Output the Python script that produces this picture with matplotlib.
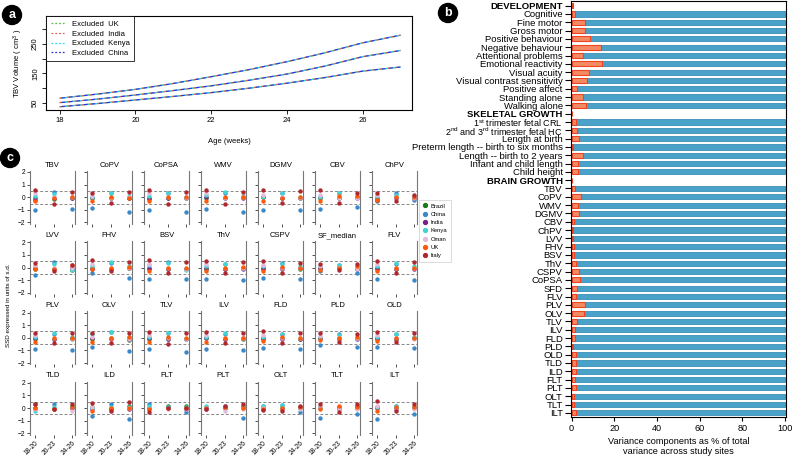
import numpy as np
import matplotlib
matplotlib.use('Agg')
import matplotlib.pyplot as plt
from matplotlib.lines import Line2D

plt.rcParams['font.family'] = ['Liberation Sans', 'DejaVu Sans']
plt.rcParams['mathtext.fontset'] = 'custom'
plt.rcParams['mathtext.rm'] = 'Liberation Sans'
plt.rcParams['mathtext.it'] = 'Liberation Sans:italic'

# ---- panel a data: TBV centiles (3rd / 50th / 97th) by gestational week
weeks = [18, 19, 20, 21, 22, 23, 24, 25, 26, 27]
tbv_lo = [37, 48, 60, 72, 85, 100, 117, 136, 158, 172]
tbv_mid = [51, 63, 77, 92, 108, 127, 148, 175, 207, 228]
tbv_hi = [66, 80, 96, 116, 139, 163, 190, 220, 254, 280]
excluded = ['UK', 'India', 'Kenya', 'China']
excl_colors = ['#5fbf4f', '#e0605a', '#20e0e8', '#3333dd']

# ---- panel b data: site variance (%) per outcome
outcomes = ['DEVELOPMENT', 'Cognitive', 'Fine motor', 'Gross motor', 'Positive behaviour',
            'Negative behaviour', 'Attentional problems', 'Emotional reactivity', 'Visual acuity',
            'Visual contrast sensitivity', 'Positive affect', 'Standing alone', 'Walking alone',
            'SKELETAL GROWTH', '1$^{\\rm st}$ trimester fetal CRL',
            '2$^{\\rm nd}$ and 3$^{\\rm rd}$ trimester fetal HC', 'Length at birth',
            'Preterm length -- birth to six months', 'Length -- birth to 2 years',
            'Infant and child length', 'Child height',
            'BRAIN GROWTH', 'TBV', 'CoPV', 'WMV', 'DGMV', 'CBV', 'ChPV', 'LVV', 'FHV', 'BSV', 'ThV',
            'CSPV', 'CoPSA', 'SFD', 'FLV', 'PLV', 'OLV', 'TLV', 'ILV', 'FLD', 'PLD', 'OLD', 'TLD',
            'ILD', 'FLT', 'PLT', 'OLT', 'TLT', 'ILT']
headers = ['DEVELOPMENT', 'SKELETAL GROWTH', 'BRAIN GROWTH']
site_var = [0.5, 1.4, 6.1, 6.4, 8.6, 13.9, 5.3, 14.2, 8.0, 7.4, 2.5, 5.5, 6.9,
            0.3, 1.9, 2.7, 3.6, 0.5, 5.5, 3.1, 3.1,
            0.3, 1.7, 4.5, 3.1, 3.3, 0.9, 0.8, 0.8, 1.1, 0.9, 1.9, 3.3, 3.9, 2.3, 2.2,
            6.1, 5.6, 2.7, 1.4, 1.4, 0.8, 1.9, 2.2, 2.2, 1.4, 2.2, 0.9, 0.9, 1.9]

# ---- panel c data: SSD (s.d. units) per measure, sites x 3 age windows
measures = ['TBV', 'CoPV', 'CoPSA', 'WMV', 'DGMV', 'CBV', 'ChPV',
            'LVV', 'FHV', 'BSV', 'ThV', 'CSPV', 'SF_median', 'FLV',
            'PLV', 'OLV', 'TLV', 'ILV', 'FLD', 'PLD', 'OLD',
            'TLD', 'ILD', 'FLT', 'PLT', 'OLT', 'TLT', 'ILT']
age_groups = ['18-20', '20-23', '24-26']
sites = ['Brazil', 'China', 'India', 'Kenya', 'Oman', 'UK', 'Italy']
site_colors = ['#1b7a1b', '#3a88c8', '#7b1f8a', '#40d4d4', '#e2bcd8', '#ff5a0a', '#b0282e']

ssd_brazil = [(-0.2, -0.15, -0.1), (-0.1, -0.1, -0.1), (-0.15, -0.1, -0.05), (-0.05, -0.1, 0.0),
              (0.0, -0.1, -0.1), (-0.1, -0.05, 0.0), (-0.1, 0.0, -0.1),
              (-0.1, -0.15, -0.2), (-0.05, -0.1, 0.0), (-0.1, -0.1, -0.15), (-0.1, -0.1, -0.05),
              (-0.1, 0.0, -0.1), (-0.05, -0.05, -0.1), (-0.1, -0.1, -0.05),
              (-0.1, -0.1, -0.1), (-0.1, -0.05, -0.15), (-0.1, -0.1, -0.1), (-0.05, -0.1, -0.1),
              (-0.1, -0.05, -0.1), (0.0, -0.1, 0.0), (-0.1, -0.1, -0.05),
              (0.3, -0.05, 0.2), (0.1, -0.1, 0.15), (0.0, 0.2, 0.15), (0.0, 0.1, 0.2),
              (0.0, 0.0, 0.1), (0.1, 0.0, 0.2), (0.1, 0.0, 0.1)]
ssd_china = [(-1.0, 0.4, -0.95), (-0.85, 0.35, -1.15), (-1.0, 0.3, -1.15), (-0.95, 0.35, -1.15),
             (-1.0, 0.3, -1.05), (-0.95, 0.3, -0.8), (-0.3, 0.3, -0.2),
             (-0.6, 0.4, -0.1), (-0.4, 0.35, -0.85), (-0.9, 0.4, -0.95), (-0.95, 0.3, -1.0),
             (-0.8, 0.35, -0.9), (-0.3, 0.2, -0.4), (-0.9, 0.3, -1.0),
             (-0.85, 0.3, -1.0), (-0.75, 0.45, -1.05), (-0.9, 0.35, -1.1), (-0.9, 0.3, -1.0),
             (-0.8, 0.3, -0.9), (-0.6, 0.3, -0.7), (-0.7, 0.3, -0.8),
             (0.0, 0.35, 0.1), (-0.6, 0.3, -0.9), (0.3, 0.1, -0.3), (0.1, 0.2, -0.8),
             (0.2, 0.25, -0.3), (-0.8, 0.1, -0.5), (-0.85, 0.2, -0.5)]
ssd_india = [(-0.1, -0.1, -0.05), (0.0, -0.1, -0.1), (-0.05, -0.1, -0.05), (0.0, -0.05, -0.1),
             (0.0, -0.1, -0.05), (0.0, -0.1, -0.1), (-0.2, -0.1, -0.1),
             (0.0, -0.1, 0.0), (-0.1, -0.1, -0.05), (0.0, -0.1, -0.1), (-0.05, -0.1, -0.1),
             (0.0, -0.1, -0.05), (0.0, 0.0, -0.1), (-0.05, -0.1, -0.1),
             (0.0, -0.1, -0.05), (-0.05, -0.1, -0.1), (0.0, -0.1, -0.1), (0.0, -0.1, -0.05),
             (0.0, -0.1, -0.1), (0.0, -0.05, -0.1), (0.0, -0.1, -0.05),
             (0.0, -0.05, 0.0), (-0.1, -0.1, -0.1), (-0.1, 0.0, -0.05), (-0.05, 0.0, 0.0),
             (-0.05, -0.05, 0.0), (0.0, -0.1, 0.0), (0.0, -0.1, 0.0)]
ssd_kenya = [(0.1, 0.25, 0.0), (0.05, 0.3, 0.1), (0.1, 0.3, 0.0), (0.2, 0.4, 0.1),
             (0.05, 0.35, 0.0), (0.0, 0.35, 0.05), (0.1, 0.2, 0.1),
             (0.1, 0.3, -0.2), (0.1, 0.4, 0.1), (0.2, 0.35, -0.2), (0.15, 0.3, 0.0),
             (0.1, 0.3, 0.1), (0.1, 0.2, 0.05), (0.1, 0.35, 0.1),
             (0.1, 0.4, 0.1), (0.3, 0.45, 0.1), (0.1, 0.35, -0.1), (0.1, 0.35, 0.0),
             (0.05, 0.3, 0.0), (0.1, 0.25, 0.0), (0.1, 0.3, 0.05),
             (-0.25, 0.05, 0.1), (0.0, 0.1, 0.1), (0.2, 0.1, 0.1), (0.2, 0.1, 0.1),
             (0.2, 0.25, 0.0), (0.0, 0.1, 0.0), (0.1, 0.2, 0.1)]
ssd_oman = [(0.3, 0.0, 0.05), (0.1, -0.05, 0.0), (0.3, 0.0, -0.05), (0.3, -0.05, 0.0),
            (0.2, 0.0, -0.05), (0.2, -0.05, -0.1), (0.2, 0.0, -0.05),
            (0.15, 0.0, -0.05), (0.25, 0.0, -0.05), (0.3, 0.0, -0.1), (0.25, -0.05, 0.0),
            (0.2, 0.0, -0.05), (0.15, 0.0, -0.1), (0.25, 0.0, 0.0),
            (0.2, -0.05, -0.1), (0.1, 0.0, -0.1), (0.25, -0.05, -0.1), (0.2, 0.0, -0.05),
            (0.2, -0.05, 0.0), (0.15, 0.0, -0.05), (0.2, 0.0, -0.1),
            (-0.1, -0.05, -0.2), (0.1, -0.2, 0.0), (-0.1, -0.05, -0.1), (0.0, -0.2, -0.1),
            (0.0, -0.05, -0.05), (0.1, -0.1, -0.1), (0.2, -0.1, -0.05)]
ssd_uk = [(-0.3, -0.05, 0.0), (-0.3, 0.0, -0.05), (-0.3, 0.0, 0.0), (-0.3, 0.0, 0.0),
          (-0.3, -0.05, 0.0), (-0.3, 0.1, 0.1), (-0.2, 0.0, 0.05),
          (-0.1, -0.1, 0.2), (-0.1, 0.0, 0.05), (-0.3, 0.0, 0.0), (-0.3, 0.0, 0.05),
          (-0.3, 0.05, 0.0), (-0.2, 0.0, 0.1), (-0.3, 0.0, 0.0),
          (-0.3, 0.0, 0.0), (-0.3, 0.0, 0.05), (-0.35, 0.1, -0.05), (-0.3, 0.0, 0.0),
          (-0.25, 0.05, 0.0), (-0.2, 0.0, 0.05), (-0.25, 0.0, 0.0),
          (0.0, -0.1, 0.05), (-0.2, 0.0, 0.0), (-0.1, 0.0, 0.0), (0.0, 0.1, 0.0),
          (-0.1, 0.0, 0.05), (-0.1, 0.2, 0.1), (-0.25, 0.1, 0.1)]
ssd_italy = [(0.6, -0.5, 0.45), (0.35, -0.45, 0.4), (0.55, -0.5, 0.4), (0.6, -0.5, 0.45),
             (0.6, -0.45, 0.5), (0.55, -0.45, 0.3), (0.3, -0.3, 0.2),
             (0.35, -0.3, 0.2), (0.6, -0.3, 0.4), (0.6, -0.4, 0.4), (0.55, -0.4, 0.45),
             (0.5, -0.4, 0.35), (0.3, -0.2, 0.3), (0.55, -0.45, 0.4),
             (0.4, -0.4, 0.4), (0.35, -0.4, 0.35), (0.45, -0.5, 0.4), (0.45, -0.45, 0.4),
             (0.5, -0.4, 0.35), (0.4, -0.3, 0.3), (0.45, -0.35, 0.35),
             (0.35, -0.1, 0.3), (0.4, -0.25, 0.45), (-0.3, 0.0, 0.0), (-0.1, 0.2, 0.3),
             (-0.15, -0.2, 0.2), (0.3, -0.3, 0.3), (0.55, -0.2, 0.3)]
ssd_all = [ssd_brazil, ssd_china, ssd_india, ssd_kenya, ssd_oman, ssd_uk, ssd_italy]

W, H = 792, 461
fig = plt.figure(figsize=(W / 100, H / 100), dpi=100)


def px_axes(left, top, width, height):
    return fig.add_axes([left / W, 1 - (top + height) / H, width / W, height / H])


def badge(x, y, letter):
    fig.text(x / W, 1 - y / H, letter, color='white', fontsize=9, fontweight='bold',
             ha='center', va='center',
             bbox=dict(boxstyle='circle,pad=0.28', fc='black', ec='black'))


# ---------------- panel a
ax = px_axes(46, 16, 366, 94)
for curve in (tbv_lo, tbv_mid, tbv_hi):
    for i, (name, col) in enumerate(zip(excluded, excl_colors)):
        ax.plot(weeks, curve, color=col, lw=0.9, linestyle=(i * 1.5, (3, 3)))
ax.set_xlim(17.64, 27.3)
ax.set_ylim(26, 345)
ax.set_xticks([18, 20, 22, 24, 26])
ax.set_yticks([50, 100, 150, 200, 250, 300])
ax.set_yticklabels(['50', '', '150', '', '250', ''], rotation=90, va='center')
ax.tick_params(labelsize=5.5, length=3, width=0.6, pad=2)
for s in ax.spines.values():
    s.set_linewidth(0.8)
ax.set_xlabel('Age (weeks)', fontsize=5.5, labelpad=10)
ax.set_ylabel('TBV Volume ( cm$^3$ )', fontsize=5.5, labelpad=5)
handles = [Line2D([], [], color=c, lw=0.9, linestyle=(0, (1.5, 1.5))) for c in excl_colors]
leg = ax.legend(handles, ['Excluded  ' + n for n in excluded], loc='upper left',
                fontsize=5.5, frameon=True, fancybox=False, borderaxespad=0,
                handlelength=2.0, labelspacing=0.3, borderpad=0.6)
leg.get_frame().set_edgecolor('black')
leg.get_frame().set_linewidth(0.7)
badge(12, 15, 'a')

# ---------------- panel b
axb = px_axes(571, 1.5, 215, 415.5)
ypos = np.arange(len(outcomes))
for y, name, v in zip(ypos, outcomes, site_var):
    if name not in headers:
        axb.barh(y, 100, height=0.62, color='#4ba2c8', edgecolor='#3b8fba', lw=0.6)
    axb.barh(y, v, height=0.62, color='#f28a64', edgecolor='#ee4420', lw=0.8)
axb.set_ylim(len(outcomes) - 0.5, -0.5)
axb.set_xlim(-0.3, 100.5)
axb.set_yticks(ypos)
axb.set_yticklabels(outcomes, fontsize=6.8)
for lab in axb.get_yticklabels():
    if lab.get_text() in headers:
        lab.set_fontweight('bold')
    if '$' in lab.get_text():
        lab.set_fontsize(6.5)
axb.set_xticks([0, 20, 40, 60, 80, 100])
axb.tick_params(axis='x', labelsize=6.6, length=3, width=0.8, pad=2)
axb.tick_params(axis='y', length=4, width=0.8, pad=2)
for s in axb.spines.values():
    s.set_linewidth(0.8)
axb.set_xlabel('Variance components as % of total\nvariance across study sites',
               fontsize=6.6, labelpad=3, linespacing=1.1)
badge(448, 13, 'b')

# ---------------- panel c
col_left = [30 + 57 * k for k in range(7)]
row_top = [170.7 + 70.3 * r for r in range(4)]
xs = np.arange(len(age_groups))
for idx, name in enumerate(measures):
    r, c = divmod(idx, 7)
    axc = px_axes(col_left[c], row_top[r], 45, 53)
    for site, col, vals in zip(sites, site_colors, ssd_all):
        axc.scatter(xs, vals[idx], s=10, color=col, zorder=3, lw=0)
    axc.axhline(0.5, color='#888888', lw=0.7, ls=(0, (3, 2)))
    axc.axhline(-0.5, color='#888888', lw=0.7, ls=(0, (3, 2)))
    axc.set_xlim(-0.28, 2.17)
    axc.set_ylim(-2.1, 2.1)
    axc.set_yticks([-2, -1, 0, 1, 2])
    axc.set_xticks(xs)
    axc.spines['top'].set_visible(False)
    axc.spines['bottom'].set_visible(False)
    for side in ('left', 'right'):
        axc.spines[side].set_color('#777777')
        axc.spines[side].set_linewidth(0.8)
    axc.tick_params(length=2.5, width=0.6, color='#333333', labelsize=4.8, pad=1)
    if c == 0:
        axc.set_yticklabels(['\u22122', '\u22121', '0', '1', '2'])
    else:
        axc.set_yticklabels([])
    if r == 3:
        axc.set_xticklabels(age_groups, rotation=45, ha='right', rotation_mode='anchor',
                            fontsize=4.8)
    else:
        axc.set_xticklabels([])
    axc.set_title(name, fontsize=5.5, pad=3)

fig.text(9 / W, 1 - 305 / H, 'SSD expressed in units of s.d.', rotation=90,
         fontsize=4.5, ha='center', va='center')
site_handles = [Line2D([], [], marker='o', ls='', color=c, markersize=2.8) for c in site_colors]
lg = fig.legend(site_handles, sites, loc='upper left', bbox_to_anchor=(416 / W, 1 - 197 / H),
                fontsize=4.2, frameon=True, fancybox=False, handletextpad=0.4,
                labelspacing=0.55, borderpad=0.6, handlelength=1)
lg.get_frame().set_edgecolor('#cccccc')
lg.get_frame().set_linewidth(0.6)
badge(10, 158, 'c')

fig.savefig('out.png', dpi=100)
